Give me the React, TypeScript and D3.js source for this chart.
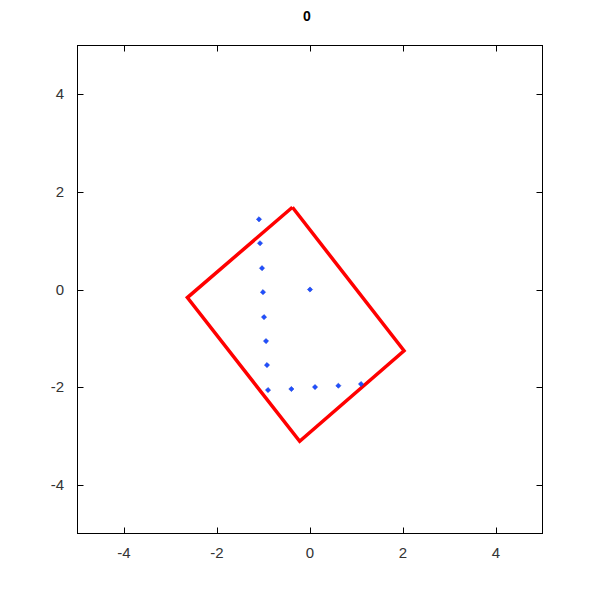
import React from "react";
import * as d3 from "d3";

const title = "0";
const xTicks = [-4, -2, 0, 2, 4];
const yTicks = [-4, -2, 0, 2, 4];
const rectX = [-0.378, -2.637, -0.222, 2.022, -0.378];
const rectY = [1.685, -0.165, -3.111, -1.255, 1.685];
const ptsX = [-1.097, -1.075, -1.032, -1.011, -0.989, -0.946, -0.925, -0.903, -0.401, 0.108, 0.61, 1.097, 0];
const ptsY = [1.439, 0.948, 0.437, -0.054, -0.566, -1.057, -1.548, -2.06, -2.039, -1.999, -1.972, -1.937, 0];

export default function App() {
  const W = 600, H = 600;
  const L = 77.5, R = 542.5, T = 45.5, B = 533.5;
  const x = d3.scaleLinear().domain([-5, 5]).range([L, R]);
  const y = d3.scaleLinear().domain([-5, 5]).range([B, T]);
  const line = d3.line<number>().x((_, i) => x(rectX[i])).y((_, i) => y(rectY[i]));
  const tl = 6;
  const font = "'Liberation Sans', Arial, sans-serif";
  return (
    <svg width={W} height={H} style={{ position: "absolute", left: 0, top: 0 }}>
      <rect width={W} height={H} fill="#fff" />
      <text x={W / 2 + 7} y={21} textAnchor="middle" fontFamily={font} fontWeight="bold" fontSize={14}>{title}</text>
      <path d={line(rectX) || ""} fill="none" stroke="#ff0000" strokeWidth={3.5} strokeLinejoin="miter" />
      {ptsX.map((px, i) => {
        const cx = x(px), cy = y(ptsY[i]);
        return <path key={i} d={`M${cx},${cy - 2.6}L${cx + 2.6},${cy}L${cx},${cy + 2.6}L${cx - 2.6},${cy}Z`} fill="#1f4fff" stroke="#0a30d0" strokeWidth={0.5} />;
      })}
      <rect x={L} y={T} width={R - L} height={B - T} fill="none" stroke="#000" strokeWidth={1} />
      {xTicks.map((t) => (
        <g key={"x" + t}>
          <line x1={Math.round(x(t)) + 0.5} x2={Math.round(x(t)) + 0.5} y1={B} y2={B - tl} stroke="#000" />
          <line x1={Math.round(x(t)) + 0.5} x2={Math.round(x(t)) + 0.5} y1={T} y2={T + tl} stroke="#000" />
          <text x={x(t)} y={558} textAnchor="middle" fontFamily={font} fontSize={15} fill="#333">{t}</text>
        </g>
      ))}
      {yTicks.map((t) => (
        <g key={"y" + t}>
          <line x1={L} x2={L + tl} y1={Math.round(y(t)) + 0.5} y2={Math.round(y(t)) + 0.5} stroke="#000" />
          <line x1={R} x2={R - tl} y1={Math.round(y(t)) + 0.5} y2={Math.round(y(t)) + 0.5} stroke="#000" />
          <text x={64} y={y(t) + 5} textAnchor="end" fontFamily={font} fontSize={15} fill="#333">{t}</text>
        </g>
      ))}
    </svg>
  );
}
